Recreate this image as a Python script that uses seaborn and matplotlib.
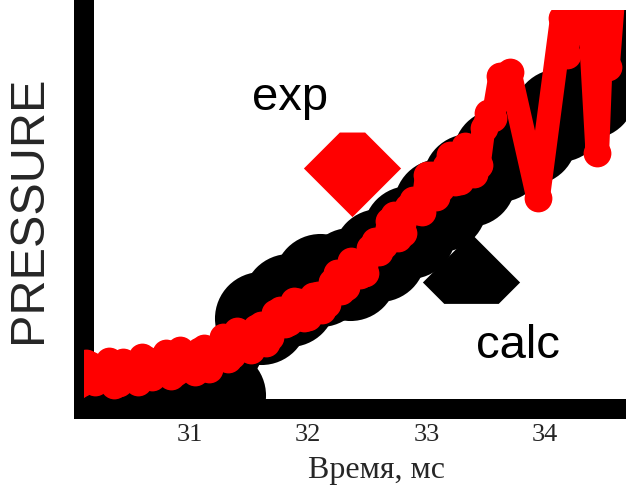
import seaborn as sns
import matplotlib.pyplot as plt
import numpy as np

# эксперимент (exp) - время, мс и давление (усл. ед.)
exp_time = [30.04, 30.08, 30.12, 30.16, 30.20, 30.24, 30.28, 30.32, 30.36, 30.40,
            30.44, 30.48, 30.52, 30.56, 30.60, 30.64, 30.68, 30.72, 30.76, 30.80,
            30.84, 30.88, 30.92, 30.96, 31.00, 31.04, 31.08, 31.12, 31.16, 31.20,
            31.24, 31.28, 31.32, 31.36, 31.40, 31.44, 31.48, 31.52, 31.56, 31.60,
            31.64, 31.68, 31.72, 31.76, 31.80, 31.84, 31.88, 31.92, 31.96, 32.00,
            32.04, 32.08, 32.12, 32.16, 32.20, 32.24, 32.28, 32.32, 32.36, 32.40,
            32.44, 32.48, 32.52, 32.56, 32.60, 32.64, 32.68, 32.72, 32.76, 32.80,
            32.84, 32.88, 32.92, 32.96, 33.00, 33.04, 33.08, 33.12, 33.16, 33.20,
            33.24, 33.28, 33.32, 33.36, 33.40, 33.44, 33.48, 33.52, 33.56,
            33.62, 33.70, 33.94, 34.14, 34.18, 34.24, 34.36, 34.44, 34.48, 34.53, 34.60]
exp_pressure = [5.8, 6.4, 11.5, 11.1, 6.8, 7.8, 10.4, 12.0, 6.0, 6.6,
                11.8, 10.9, 8.5, 6.8, 13.0, 12.2, 8.0, 9.0, 12.5, 14.0,
                8.4, 9.3, 14.8, 12.8, 10.5, 9.2, 14.5, 15.2, 10.0, 12.5,
                15.3, 18.0, 12.5, 13.5, 19.5, 18.0, 15.3, 14.7, 20.3, 21.1,
                16.5, 18.1, 24.1, 24.9, 21.3, 21.8, 27.1, 26.7, 22.8, 23.1,
                28.3, 28.6, 24.8, 26.4, 31.8, 34.1, 29.6, 30.7, 37.1, 36.6,
                33.6, 34.0, 40.4, 42.2, 39.4, 41.1, 47.1, 48.6, 42.9, 44.2,
                50.6, 52.3, 49.6, 49.3, 58.6, 58.6, 53.1, 55.5, 60.9, 63.7,
                56.9, 57.2, 65.9, 64.2, 58.9, 61.2, 70.4, 74.2, 72.9,
                83.5, 84.5, 52.9, 98.0, 88.7, 107.5, 106.3, 64.2, 95.0, 85.7, 112.5]

# расчёт (calc)
calc_time = [29.99, 30.41, 30.83, 31.25, 31.60, 31.84, 32.10, 32.35, 32.60, 32.85,
             33.11, 33.36, 33.61, 33.87, 34.12, 34.37, 34.62, 34.88, 35.13]
calc_pressure = [-5.3, -5.3, -4.8, 3.5, 22.8, 27.3, 32.3, 33.8, 38.6, 44.4,
                 51.1, 57.4, 63.7, 67.9, 73.7, 79.4, 88.7, 96.2, 102.5]

xticks = [31, 32, 33, 34]

sns.set_theme(style="white")
plt.rcParams['font.family'] = ['Liberation Sans', 'DejaVu Sans']

fig = plt.figure(figsize=(6.26, 4.86), dpi=100)
ax = fig.add_axes([0.1342, 0.1584, 0.936, 0.821])

sns.lineplot(x=calc_time, y=calc_pressure, ax=ax, color='black', linewidth=30,
             marker='o', markersize=67, markeredgewidth=0, zorder=3)

# значки легенды
red_key = [(-1, 0), (-0.26, 0.74), (0.26, 0.74), (1, 0), (0, -1), (-1, 0)]
black_key = [(-1, 0), (0, 1), (1, 0), (0.56, -0.44), (-0.56, -0.44), (-1, 0)]
ax.plot([0.4566], [0.604], transform=ax.transAxes, marker=red_key, markersize=70,
        color='red', markeredgewidth=0, linestyle='none', clip_on=False, zorder=3.2)
ax.plot([0.661], [0.318], transform=ax.transAxes, marker=black_key, markersize=70,
        color='black', markeredgewidth=0, linestyle='none', clip_on=False, zorder=3.2)
ax.text(0.286, 0.749, 'exp', transform=ax.transAxes, fontsize=34,
        ha='left', va='baseline', color='black')
ax.text(0.6695, 0.128, 'calc', transform=ax.transAxes, fontsize=34,
        ha='left', va='baseline', color='black')

sns.lineplot(x=exp_time, y=exp_pressure, ax=ax, color='red', linewidth=17,
             marker='o', markersize=20, markeredgewidth=0, zorder=3.5,
             solid_joinstyle='round', solid_capstyle='round')

ax.set_xlim(30.107, 35.053)
ax.set_ylim(0, 100)
ax.set_xticks(xticks)
ax.set_xticklabels([str(t) for t in xticks], fontfamily='Liberation Serif', fontsize=19)
ax.set_yticks([])
ax.tick_params(axis='x', length=0, pad=11)
ax.set_xlabel('Время, мс', fontfamily='Liberation Serif', fontsize=23, labelpad=7)
ax.set_ylabel('PRESSURE', fontsize=35, labelpad=24)

sns.despine(ax=ax)
for side in ['left', 'bottom']:
    ax.spines[side].set_linewidth(14.4)
    ax.spines[side].set_color('black')

fig.savefig('out.png', dpi=100)
